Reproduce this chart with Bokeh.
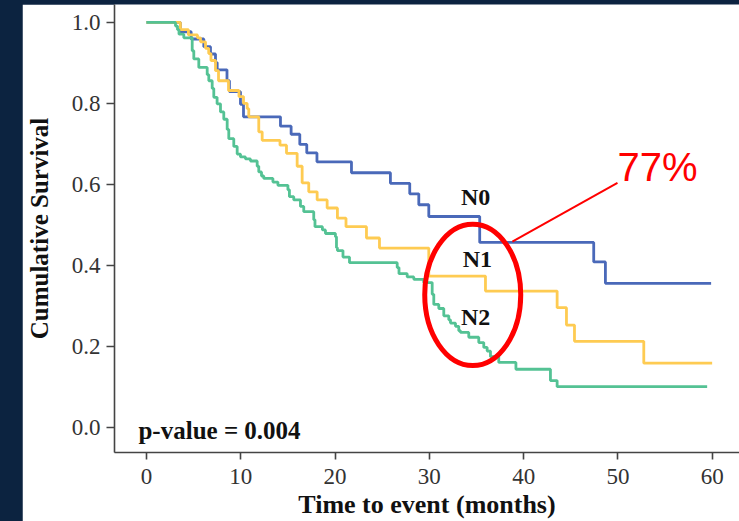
from bokeh.plotting import figure
from bokeh.models import Range1d, FixedTicker, PrintfTickFormatter, Spacer
from bokeh.layouts import row, column
from bokeh.embed import file_html
from bokeh.resources import INLINE
from bokeh.core.properties import value

# ---- data ----
n0_time = [0, 3.6, 4.74, 6.08, 6.79, 7.32, 7.50, 8.54, 8.80, 9.97, 10.29, 14.21, 15.34, 16.26,
           17.0, 18.08, 21.74, 25.87, 27.92, 28.88, 29.94, 35.34, 47.43, 48.67, 59.88]
n0_surv = [1.0, 0.977, 0.959, 0.940, 0.922, 0.901, 0.883, 0.856, 0.829, 0.798, 0.767, 0.744, 0.724, 0.699,
           0.678, 0.656, 0.629, 0.603, 0.577, 0.550, 0.521, 0.457, 0.409, 0.356, 0.356]

n1_time = [0, 3.6, 4.45, 5.41, 5.73, 6.26, 6.6, 6.84, 7.32, 7.64, 8.70, 9.81, 10.29, 10.68, 10.85,
           11.91, 12.27, 14.16, 14.85, 15.98, 16.51, 17.21, 18.10, 19.16, 20.25, 21.16, 23.33, 24.71,
           29.94, 35.95, 43.55, 44.54, 45.39, 52.74, 59.99]
n1_surv = [1.0, 0.982, 0.969, 0.962, 0.952, 0.936, 0.923, 0.906, 0.881, 0.856, 0.832, 0.817, 0.800, 0.787, 0.767,
           0.730, 0.709, 0.697, 0.677, 0.645, 0.604, 0.582, 0.562, 0.542, 0.517, 0.496, 0.468, 0.443,
           0.374, 0.337, 0.296, 0.253, 0.213, 0.159, 0.159]

n2_time = [0, 3.08, 3.29, 3.45, 3.96, 4.85, 5.02, 5.55, 6.44, 6.61, 6.97, 7.14, 7.49, 7.85, 8.20, 8.56,
           8.73, 9.26, 9.62, 9.97, 10.50, 11.03, 11.74, 11.91, 12.2, 12.44, 13.41, 13.94, 15.0, 15.16,
           15.62, 16.33, 16.68, 17.74, 17.87, 18.66, 18.98, 20.04, 20.15, 20.25, 20.84, 21.53, 26.59,
           26.78, 27.65, 28.35, 29.4, 30.3, 30.47, 31.0, 31.53, 32.06, 32.24, 32.77, 33.12, 33.30, 34.18,
           35.24, 35.77, 36.13, 36.48, 37.36, 39.18, 42.84, 43.55, 59.46]
n2_surv = [1.0, 0.991, 0.982, 0.971, 0.962, 0.930, 0.910, 0.889, 0.871, 0.856, 0.837, 0.815, 0.799, 0.779, 0.761, 0.736,
           0.713, 0.694, 0.675, 0.668, 0.663, 0.658, 0.645, 0.631, 0.621, 0.615, 0.606, 0.598, 0.587, 0.570,
           0.562, 0.546, 0.533, 0.513, 0.496, 0.488, 0.479, 0.471, 0.444, 0.437, 0.421, 0.407, 0.395,
           0.380, 0.372, 0.366, 0.358, 0.329, 0.304, 0.294, 0.276, 0.266, 0.258, 0.250, 0.239, 0.235, 0.223,
           0.210, 0.198, 0.189, 0.175, 0.161, 0.144, 0.116, 0.101, 0.101]

x_ticks = [0, 10, 20, 30, 40, 50, 60]
y_ticks = [0.0, 0.2, 0.4, 0.6, 0.8, 1.0]

group_names = ["N0", "N1", "N2"]
group_label_x = [34.9, 35.1, 34.9]
group_label_y = [0.569, 0.415, 0.272]

p_value_text = "p-value = 0.004"
highlight_text = "77%"

BLUE = "#4a69b9"
YELLOW = "#fecb52"
GREEN = "#54c294"
NAVY = "#0c2340"
SERIF = "Liberation Serif"

p = figure(width=717, height=517, output_backend="svg", toolbar_location=None,
           x_range=Range1d(-3.39, 62.89), y_range=Range1d(-0.0614, 1.0442),
           min_border=0, min_border_left=92)
p.outline_line_color = None
p.grid.visible = False

for t, s, c in [(n0_time, n0_surv, BLUE), (n1_time, n1_surv, YELLOW), (n2_time, n2_surv, GREEN)]:
    p.step(t, s, mode="after", line_color=c, line_width=2.8)

# axes
p.xaxis.ticker = FixedTicker(ticks=x_ticks)
p.yaxis.ticker = FixedTicker(ticks=y_ticks)
p.yaxis.formatter = PrintfTickFormatter(format="%.1f")
p.xaxis.axis_label = "Time to event (months)"
p.yaxis.axis_label = "Cumulative Survival"
for ax in (p.xaxis, p.yaxis):
    ax.axis_line_color = "#444444"
    ax.axis_line_width = 1.6
    ax.major_tick_line_color = "#444444"
    ax.major_tick_line_width = 1.6
    ax.major_tick_in = 0
    ax.minor_tick_line_color = None
    ax.major_label_text_font = SERIF
    ax.major_label_text_font_size = "23px"
    ax.major_label_text_color = "#333333"
    ax.axis_label_text_font = SERIF
    ax.axis_label_text_font_style = "bold"
    ax.axis_label_text_color = "#111111"
p.xaxis.axis_label_text_font_size = "26px"
p.yaxis.axis_label_text_font_size = "25px"
p.xaxis.major_tick_out = 7
p.yaxis.major_tick_out = 8
p.xaxis.major_label_standoff = 9
p.xaxis.axis_label_standoff = 3
p.yaxis.major_label_standoff = 6
p.yaxis.axis_label_standoff = 16

# group labels
p.text(x=group_label_x, y=group_label_y, text=group_names, text_font=value(SERIF),
       text_font_style="bold", text_font_size="24px", text_color="#111111",
       text_align="center", text_baseline="middle")

p.text(x=[-0.85], y=[-0.006], text=[p_value_text], text_font=value(SERIF),
       text_font_style="bold", text_font_size="25px", text_color="#111111",
       text_align="left", text_baseline="middle")

# red highlight
p.ellipse(x=[34.6], y=[0.3276], width=[10.18], height=[0.349], fill_color=None,
          line_color="#ff0000", line_width=5)
p.line([38.8, 49.95], [0.459, 0.604], line_color="#ff0000", line_width=2)
p.text(x=[49.95], y=[0.644], text=[highlight_text], text_font=value("Liberation Sans"),
       text_font_size="40px", text_color="#ff0000", text_align="left", text_baseline="middle")

navy = {"background-color": NAVY}
layout = column(Spacer(width=739, height=4, styles=navy),
                row(Spacer(width=22, height=517, styles=navy), p, spacing=0),
                spacing=0, styles=navy)
open("out.html", "w").write(file_html(layout, INLINE))
